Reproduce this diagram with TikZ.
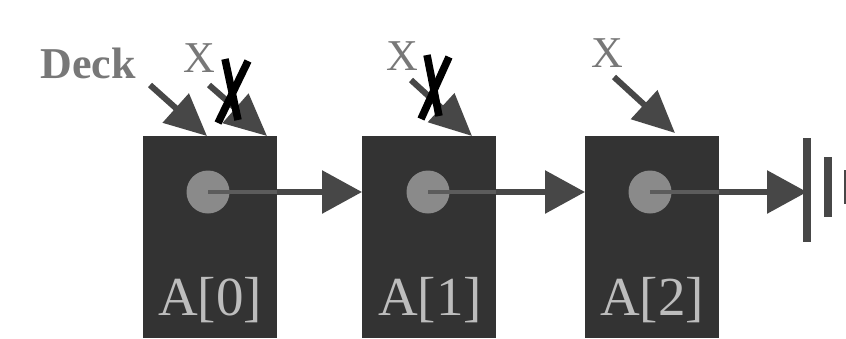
\documentclass[tikz,border=0pt]{standalone}
\usepackage{fontspec}
\setmainfont{Liberation Serif}
\usetikzlibrary{arrows.meta}
\definecolor{boxfill}{HTML}{333333}
\definecolor{linkcol}{HTML}{474747}
\definecolor{dotcol}{HTML}{8A8A8A}
\definecolor{innerline}{HTML}{5C5C5C}
\definecolor{celltext}{HTML}{BDBDBD}
\definecolor{labelcol}{HTML}{787878}
\tikzset{
  cell/.style={draw=boxfill, fill=boxfill, line width=1pt, minimum width=133pt,
    minimum height=201pt, inner sep=0pt, anchor=north west},
  dot/.style={circle, fill=dotcol, minimum size=43pt, inner sep=0pt},
  celllabel/.style={text=celltext, font=\fontsize{55}{60}\selectfont, anchor=base, inner sep=0pt},
  ptrlabel/.style={text=labelcol, font=\fontsize{44}{48}\selectfont, anchor=base, inner sep=0pt},
  deckfont/.style={text=labelcol, font=\fontsize{44}{48}\selectfont\bfseries, anchor=base, inner sep=0pt},
  link/.style={draw=linkcol, line width=6pt, -{Triangle[length=40pt,width=42pt]}},
  inner/.style={draw=innerline, line width=4pt},
  ptr/.style={draw=linkcol, line width=6pt, -{Triangle[length=42pt,width=38pt]}},
  strike/.style={draw=black, line width=7.5pt},
  bar/.style={draw=linkcol, line width=8pt}
}
\begin{document}
\begin{tikzpicture}[x=1pt,y=-1pt]
\useasboundingbox (0,0) rectangle (846,338);
\fill[white] (0,0) rectangle (846,338);

% the three cells
\node[cell] (b0) at (143,136) {};
\node[cell] (b1) at (362,136) {};
\node[cell] (b2) at (585,136) {};

\node[celllabel] (t0) at (210,315) {A[0]};
\node[celllabel] (t1) at (430,315) {A[1]};
\node[celllabel] (t2) at (652,315) {A[2]};

% next-pointers
\node[dot] (c0) at (208,192) {};
\node[dot] (c1) at (428,192) {};
\node[dot] (c2) at (650,192) {};

\coordinate (g) at (807,192);

\draw[inner] (c0.center) -- (c0.center -| b0.east);
\draw[inner] (c1.center) -- (c1.center -| b1.east);
\draw[inner] (c2.center) -- (c2.center -| b2.east);
\path[link] (c0.center -| b0.east) -- (c0.center -| b1.west);
\path[link] (c1.center -| b1.east) -- (c1.center -| b2.west);
\path[link] (c2.center -| b2.east) -- (g);

% null terminator
\draw[bar] (807,138) -- (807,242);
\draw[bar] (828,157) -- (828,217);
\draw[bar] (848,170) -- (848,204);

% external references
\node[deckfont] (deck) at (88,78) {Deck};
\node[ptrlabel] (x0) at (199,72) {X};
\node[ptrlabel] (x1) at (402,70) {X};
\node[ptrlabel] (x2) at (607,67) {X};

\coordinate (d0) at (207,136);
\coordinate (p0) at (267,136);
\coordinate (p1) at (472,136);
\coordinate (p2) at (675,133);

\path[ptr] (150,85) -- (d0);
\path[ptr] (209,85) -- (p0);
\path[ptr] (411,80) -- (p1);
\path[ptr] (614,77) -- (p2);

% crossed-out references
\draw[strike] (225,59) -- (238,120);
\draw[strike] (248,61) -- (218,123);
\draw[strike] (427,55) -- (439,116);
\draw[strike] (449,57) -- (421,119);
\end{tikzpicture}
\end{document}
